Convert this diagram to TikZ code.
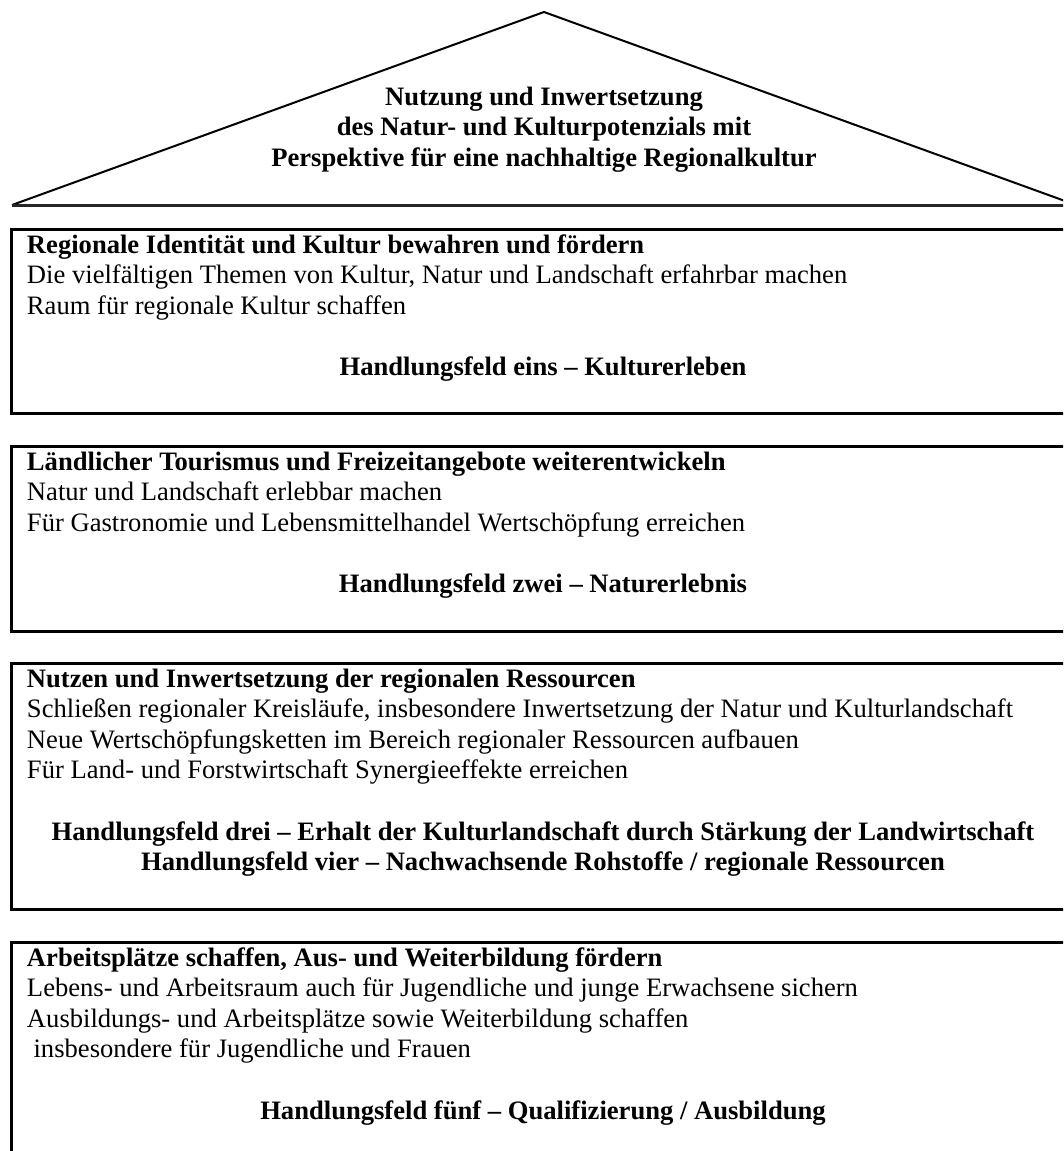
\documentclass[tikz,border=0pt]{standalone}
\usepackage{fontspec}
\setmainfont{Liberation Serif}
\begin{document}
\begin{tikzpicture}[x=1pt,y=-1pt,
  txt/.style={inner sep=0pt,outer sep=0pt,font=\fontsize{26.6}{30.6}\selectfont},
  ttl/.style={txt,font=\fontsize{26.6}{30.6}\selectfont\bfseries},
  hd/.style={txt,font=\fontsize{26.6}{30.6}\selectfont\bfseries,anchor=base},
  ln/.style={txt,anchor=base west},
  tl/.style={ttl,anchor=base west},
  boxline/.style={line width=3pt},
  roofline/.style={line width=2pt}]
\clip (0,0) rectangle (1063,1151);
\fill[white] (0,0) rectangle (1063,1151);
% roof
\coordinate (rl) at (12,205);
\coordinate (ra) at (544,12);
\coordinate (rr) at (1076,205);
\draw[roofline,line join=miter] (rl) -- (ra) -- (rr);
\draw[line width=3pt,black!85] (rl) -- (rr);
\node[hd] (r1) at (544,105) {Nutzung und Inwertsetzung};
\node[hd] (r2) at (544,135.6) {des Natur- und Kulturpotenzials mit};
\node[hd] (r3) at (544,166.2) {Perspektive für eine nachhaltige Regionalkultur};
% box 1
\draw[boxline] (11,229) rectangle (1075,413);
\node[tl] (b1t) at (27,253) {Regionale Identität und Kultur bewahren und fördern};
\node[ln] (b1a) at (27,283.6) {Die vielfältigen Themen von Kultur, Natur und Landschaft erfahrbar machen};
\node[ln] (b1b) at (27,314.2) {Raum für regionale Kultur schaffen};
\node[hd] (b1h) at (543,375.4) {Handlungsfeld eins – Kulturerleben};
% box 2
\draw[boxline] (11,446) rectangle (1075,631);
\node[tl] (b2t) at (27,470) {Ländlicher Tourismus und Freizeitangebote weiterentwickeln};
\node[ln] (b2a) at (27,500.6) {Natur und Landschaft erlebbar machen};
\node[ln] (b2b) at (27,531.2) {Für Gastronomie und Lebensmittelhandel Wertschöpfung erreichen};
\node[hd] (b2h) at (543,592.4) {Handlungsfeld zwei – Naturerlebnis};
% box 3
\draw[boxline] (11,663) rectangle (1075,909);
\node[tl] (b3t) at (27,687) {Nutzen und Inwertsetzung der regionalen Ressourcen};
\node[ln] (b3a) at (27,717.6) {Schließen regionaler Kreisläufe, insbesondere Inwertsetzung der Natur und Kulturlandschaft};
\node[ln] (b3b) at (27,748.2) {Neue Wertschöpfungsketten im Bereich regionaler Ressourcen aufbauen};
\node[ln] (b3c) at (27,778.8) {Für Land- und Forstwirtschaft Synergieeffekte erreichen};
\node[hd] (b3h) at (543,840) {Handlungsfeld drei – Erhalt der Kulturlandschaft durch Stärkung der Landwirtschaft};
\node[hd] (b3i) at (543,870.6) {Handlungsfeld vier – Nachwachsende Rohstoffe / regionale Ressourcen};
% box 4
\draw[boxline] (11,942) rectangle (1075,1156);
\node[tl] (b4t) at (27,966) {Arbeitsplätze schaffen, Aus- und Weiterbildung fördern};
\node[ln] (b4a) at (27,996.6) {Lebens- und Arbeitsraum auch für Jugendliche und junge Erwachsene sichern};
\node[ln] (b4b) at (27,1027.2) {Ausbildungs- und Arbeitsplätze sowie Weiterbildung schaffen};
\node[ln] (b4c) at (33.6,1057.8) {insbesondere für Jugendliche und Frauen};
\node[hd] (b4h) at (543,1119) {Handlungsfeld fünf – Qualifizierung / Ausbildung};
\end{tikzpicture}
\end{document}
